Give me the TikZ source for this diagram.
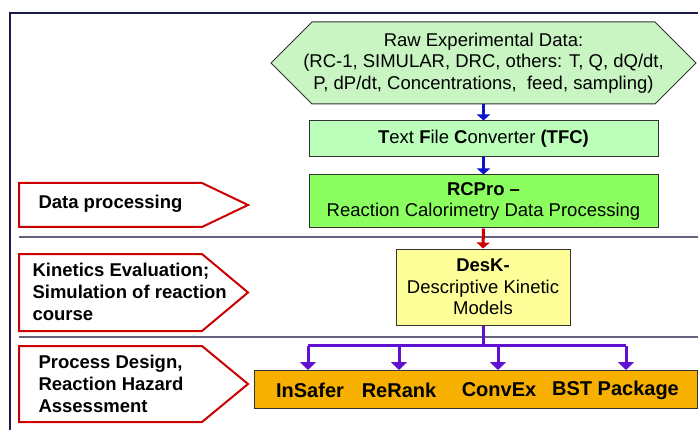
\documentclass[tikz,border=0pt]{standalone}
\usepackage{fontspec}
\setmainfont{Liberation Sans}
\usetikzlibrary{arrows.meta,shapes.symbols}

\definecolor{rawgreen}{HTML}{C8F5C2}
\definecolor{tfcgreen}{HTML}{BBFFBB}
\definecolor{progreen}{HTML}{8CFF60}
\definecolor{deskyellow}{HTML}{FFFF99}
\definecolor{tooorange}{HTML}{F7B000}
\definecolor{framenavy}{HTML}{1C1C48}
\definecolor{sepgray}{HTML}{64647C}
\definecolor{flowblue}{HTML}{0A14C8}
\definecolor{flowred}{HTML}{CC0000}
\definecolor{flowpurple}{HTML}{6010D0}

\tikzset{
  box/.style={draw=black!80,line width=1pt,inner sep=0pt,align=center},
  phase/.style={signal,signal to=east,draw=flowred,fill=white,line width=2pt,
    inner sep=0pt,minimum width=229pt},
  phasetext/.style={anchor=west,align=left,font=\fontsize{18.5}{22}\selectfont\bfseries},
  tool/.style={font=\fontsize{20}{22}\selectfont\bfseries},
  bluearrow/.style={-{Triangle[width=13pt,length=6pt]},flowblue,line width=3pt},
  separator/.style={sepgray,line width=1.5pt}
}

\begin{document}
\begin{tikzpicture}[x=1pt,y=-1pt,line join=miter,
  font=\fontsize{18.5}{21.5}\selectfont]

  \useasboundingbox (0,0) rectangle (698,430);

  % outer frame
  \draw[framenavy,line width=2pt] (10,440) -- (10,13) -- (710,13);

  % phase separators
  \draw[separator] (19,237) -- (698,237);
  \draw[separator] (19,337) -- (698,337);

  % main flow
  \node[box,signal,signal to=east and west,fill=rawgreen,
    minimum width=425pt,minimum height=82pt] (raw) at (483.5,63) {};
  \node[align=center] (rawtext) at (483.5,63)
    {Raw Experimental Data:\\(RC-1, SIMULAR, DRC, others: T, Q, dQ/dt,\\
     P, dP/dt, Concentrations, \ feed, sampling)};
  \node[box,fill=tfcgreen,minimum width=349pt,minimum height=36pt] (tfc)
    at (483.5,139)
    {\textbf{T}ext \textbf{F}ile \textbf{C}onverter \textbf{(TFC)}};
  \node[box,fill=progreen,minimum width=349pt,minimum height=53pt] (rcpro)
    at (483.5,201.5)
    {\textbf{RCPro –}\\Reaction Calorimetry Data Processing};
  \node[box,fill=deskyellow,minimum width=174pt,minimum height=76pt] (desk)
    at (483,287)
    {\textbf{DesK-}\\Descriptive Kinetic\\Models};
  \node[box,fill=tooorange,minimum width=443pt,minimum height=38pt] (tools)
    at (475.5,389) {};

  % tools
  \node[tool] (insafer) at (310,390) {InSafer};
  \node[tool] (rerank) at (399,390) {ReRank};
  \node[tool] (convex) at (499,390) {ConvEx};
  \node[tool] (bst) at (615.5,390) {BST Package};
  \coordinate (in1) at (308,370);
  \coordinate (in2) at (399,370);
  \coordinate (in3) at (498,370);
  \coordinate (in4) at (626,370);

  \draw[bluearrow] (raw.south) -- (tfc.north);
  \draw[bluearrow] (tfc.south) -- (rcpro.north);
  \draw[bluearrow,flowred] (rcpro.south) -- (desk.north);

  % fan out to the tools
  \draw[flowpurple,line width=3pt] (desk.south) -- ++(0,20) coordinate (fork);
  \draw[flowpurple,line width=3pt] (fork -| in1) -- (fork -| in4);
  \foreach \i in {1,...,4}
    \draw[-{Triangle[width=16pt,length=8pt]},flowpurple,line width=3pt]
      (fork -| in\i) -- (in\i);

  % phases on the left
  \node[phase,minimum height=44pt,signal pointer angle=51.1] (dp) at (110.5,205) {};
  \node[phasetext] (dptext) at (35,204) {Data processing};
  \node[phase,minimum height=77pt,signal pointer angle=79.8] (ke) at (110.5,292.5) {};
  \node[phasetext] (ketext) at (29,292) {Kinetics Evaluation;\\Simulation of reaction\\course};
  \node[phase,minimum height=76pt,signal pointer angle=79.1] (pd) at (110.5,384) {};
  \node[phasetext] (pdtext) at (35,384) {Process Design,\\Reaction Hazard\\Assessment};
\end{tikzpicture}
\end{document}
